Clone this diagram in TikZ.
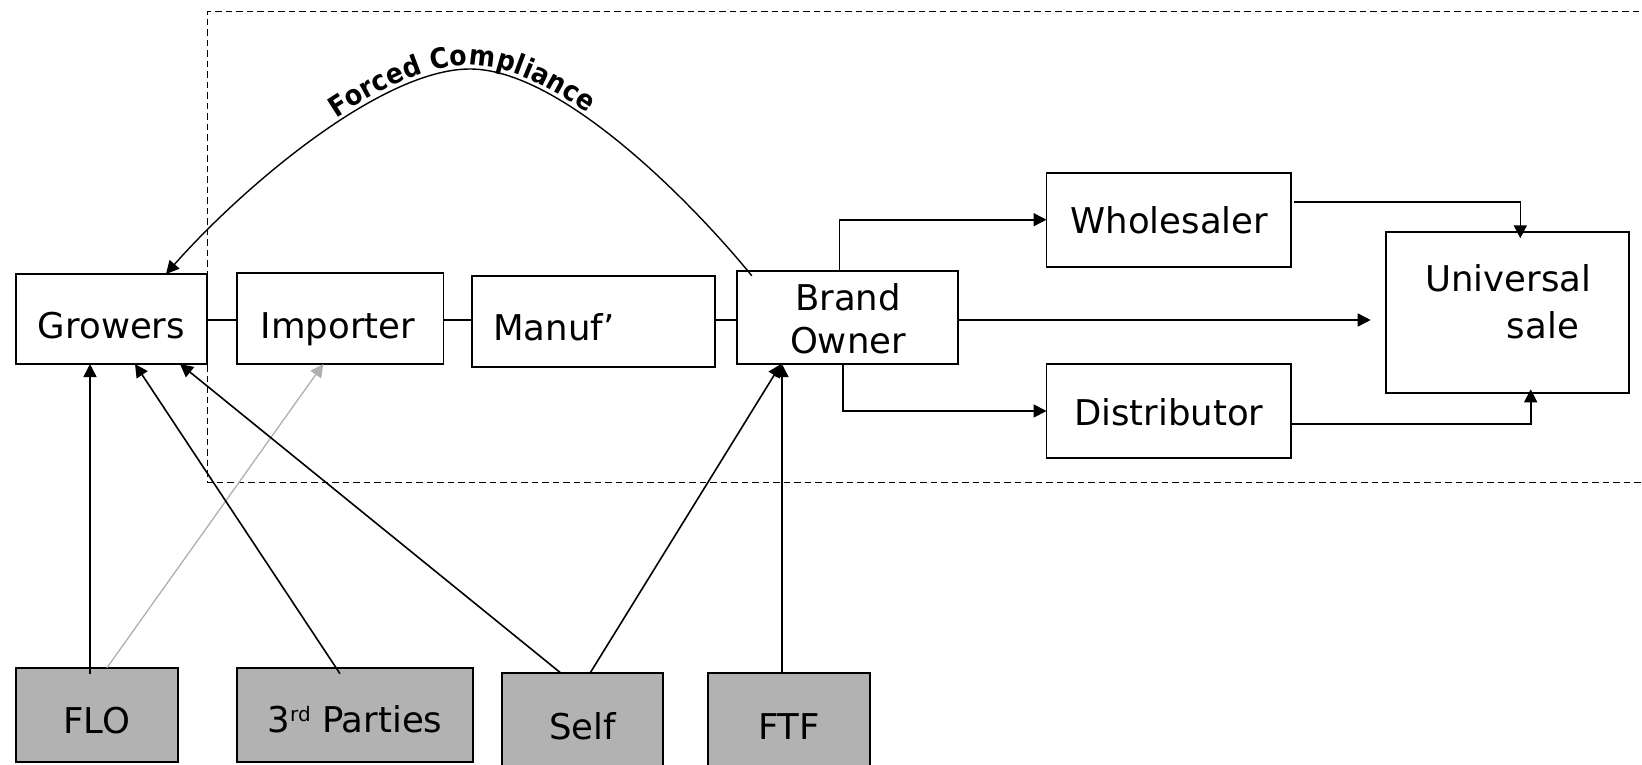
\documentclass[tikz,border=0pt]{standalone}
\usepackage{fontspec}
\setmainfont{DejaVu Sans}
\newfontfamily\condfont{DejaVu Sans Condensed}
\usetikzlibrary{arrows.meta,calc,decorations.text}
\definecolor{boxgray}{RGB}{178,178,178}
\definecolor{linegray}{RGB}{176,176,176}
\begin{document}
\begin{tikzpicture}[x=1pt,y=-1pt,
  box/.style={draw, line width=1.8pt, inner sep=0pt, outer sep=0pt, fill=white},
  gbox/.style={box, fill=boxgray},
  txt/.style={font=\fontsize{35.5}{42}\selectfont, inner sep=0pt, anchor=base},
  arr/.style={line width=1.6pt, -{Triangle[length=13pt,width=13pt]}},
  link/.style={line width=1.6pt},
  frame/.style={line width=1.4pt, dash pattern=on 6.5pt off 4pt}]
\useasboundingbox (0,0) rectangle (1642,765);
% dashed frame
\draw[frame] (1660,11.5) -| (207.7,482.3) -- (1660,482.3);
% boxes
\node[box, minimum width=191.6pt, minimum height=90pt] (G) at (111.5,319) {};
\node[box, minimum width=206.5pt, minimum height=91pt] (I) at (340.3,318.5) {};
\node[box, minimum width=243pt, minimum height=91pt] (M) at (593.5,321.5) {};
\node[box, minimum width=221pt, minimum height=93.3pt] (B) at (847.8,317.4) {};
\node[box, minimum width=244.3pt, minimum height=94pt] (W) at (1168.7,219.7) {};
\node[box, minimum width=244.3pt, minimum height=93.4pt] (D) at (1168.7,411) {};
\node[box, minimum width=243.6pt, minimum height=161.6pt] (U) at (1507.5,312.5) {};
\node[gbox, minimum width=162pt, minimum height=94pt] (F) at (97,714.7) {};
\node[gbox, minimum width=236pt, minimum height=94pt] (T) at (355,714.7) {};
\node[gbox, minimum width=161.3pt, minimum height=94pt] (S) at (582.7,720.2) {};
\node[gbox, minimum width=162pt, minimum height=94pt] (X) at (789,720) {};
% texts
\node[txt] (tG) at (111.5,338.3) {Growers};
\node[txt] (tI) at (338,338.3) {Importer};
\node[txt, anchor=base west] (tM) at (493,340.7) {Manuf’};
\node[txt] (tB1) at (848,310) {Brand};
\node[txt] (tB2) at (848,353.3) {Owner};
\node[txt] (tW) at (1169.4,233.3) {Wholesaler};
\node[txt] (tD) at (1168.8,425) {Distributor};
\node[txt, anchor=base west] (tU1) at (1425,291.7) {Universal};
\node[txt, anchor=base west] (tU2) at (1506.7,338.3) {sale};
\node[txt] (tF) at (97,733.3) {FLO};
\node[txt] (tT) at (355,732.7) {3\raisebox{11pt}{\fontsize{20}{22}\selectfont rd} Parties};
\node[txt] (tS) at (582.7,739) {Self};
\node[txt] (tX) at (789,739) {FTF};
% chain links
\draw[link] (G.east |- 0,320) -- (I.west |- 0,320);
\draw[link] (I.east |- 0,320) -- (M.west |- 0,320);
\draw[link] (M.east |- 0,320) -- (B.west |- 0,320);
% forced compliance
\draw[arr, line width=1.4pt] ($(B.north west)+(14.5,5)$) .. controls (690,200) and (560,69) .. (470,69) .. controls (380,69) and (240,190) .. (G.north -| 166,0);
\path[decorate, decoration={text along path, text={|\condfont\bfseries\fontsize{28}{30}\selectfont|Forced Compliance}, text align=center, raise=4pt}]
  (G.north -| 166,0) .. controls (240,190) and (380,69) .. (470,69) .. controls (560,69) and (690,200) .. ($(B.north west)+(14.5,5)$);
% brand owner outputs
\draw[arr] (B.north -| 839.4,0) |- (W.west);
\draw[arr] (B.east |- 0,320) -- ($(U.west |- 0,320)+(-15,0)$);
\draw[arr] (B.south -| 843,0) |- (D.west);
\draw[arr] ($(W.east |- 0,202)+(3.5,0)$) -| ($(U.north -| 1520.3,0)+(0,6.6)$);
\draw[arr] (D.east |- 0,424) -| ($(U.south -| 1530.7,0)+(0,-4)$);
% certification arrows
\draw[arr] ($(F.north -| 90,0)+(0,6)$) -- (G.south -| 90,0);
\draw[arr, draw=linegray, fill=linegray, line width=1.3pt] (F.north -| 107,0) -- (I.south -| 323.3,0);
\draw[arr] ($(T.north -| 340,0)+(0,6)$) -- (G.south -| 135,0);
\draw[arr] (S.north -| 561,0) -- (G.south -| 180,0);
\draw[arr] (S.north -| 590,0) -- (B.south -| 781,0);
\draw[arr] (X.north -| 782,0) -- (B.south -| 782,0);
\end{tikzpicture}
\end{document}
